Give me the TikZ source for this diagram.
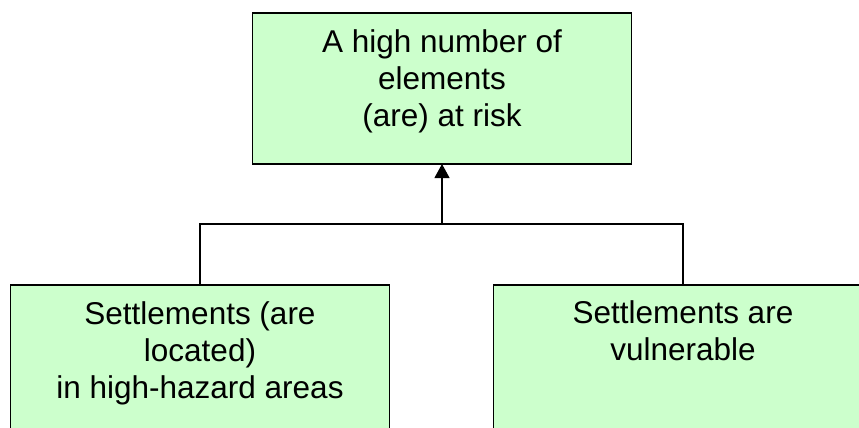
\documentclass[tikz,border=0pt]{standalone}
\usepackage{fontspec}
\setmainfont{Liberation Sans}
\usetikzlibrary{arrows.meta}
\begin{document}
\begin{tikzpicture}[x=1pt,y=1pt,
  box/.style={draw=black, line width=1.6pt, fill=boxgreen, minimum width=379pt, minimum height=151pt, inner sep=0pt, outer sep=0pt},
  txt/.style={font=\fontsize{31.5}{37}\selectfont, align=center, inner sep=0pt, anchor=base},
  conn/.style={draw=black, line width=1.1pt}]
\definecolor{boxgreen}{HTML}{CCFFCC}
\useasboundingbox (0,0) rectangle (859,-428);
\node[box] (top) at (442,-88.5) {};
\node[txt] (toptext) at (442,-126) {A high number of\\elements\\(are) at risk};
\node[box] (left) at (200,-360.5) {};
\node[txt] (lefttext) at (200,-398) {Settlements (are\\located)\\in high-hazard areas};
\node[box] (right) at (683,-360.5) {};
\node[txt] (righttext) at (683,-360) {Settlements are\\vulnerable};
\coordinate (j) at (442,-224);
\coordinate (jl) at (200,-224);
\coordinate (jr) at (683,-224);
\draw[conn] (left.north) -- (jl) -- (jr) -- (right.north);
\draw[conn, -{Triangle[width=15pt,length=14pt]}] (j) -- (top.south);
\end{tikzpicture}
\end{document}
